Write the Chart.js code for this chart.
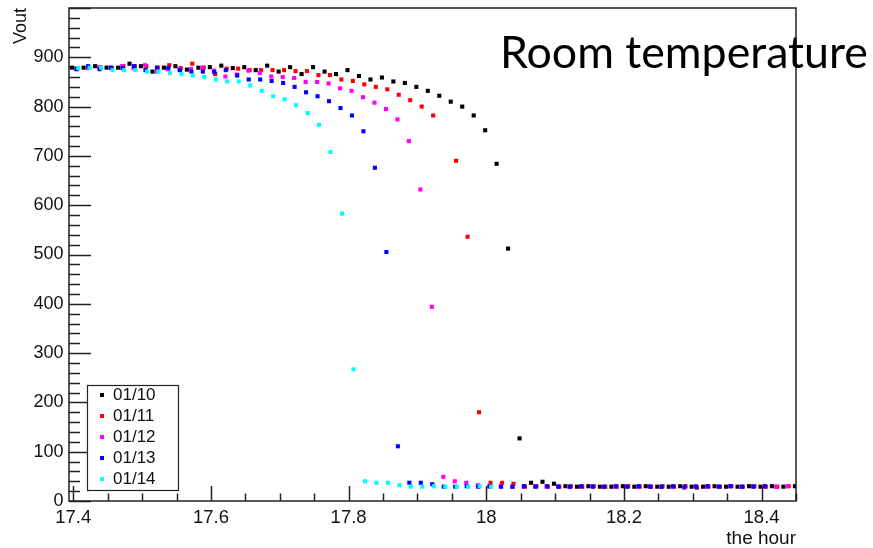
<!DOCTYPE html>
<html>
<head>
<meta charset="utf-8">
<script src="https://cdn.jsdelivr.net/npm/chart.js@4.4.0/dist/chart.umd.min.js"></script>
<style>
  html, body { margin: 0; padding: 0; background: #fff; }
  #wrap { position: relative; width: 873px; height: 548px; }
</style>
</head>
<body>
<div id="wrap"><canvas id="c" width="873" height="548"></canvas></div>
<script>
// Vout readings, one per minute, for each day's run
const dayLabels = ['01/10', '01/11', '01/12', '01/13', '01/14'];
const dayColors = ['#000000', '#ff0000', '#ff00ff', '#0000ff', '#00ffff'];

// start of each run (hour of day)
const start0110 = 17.3984;
const start0111 = 17.4062;
const start0112 = 17.4043;
const start0113 = 17.4049;
const start0114 = 17.4071;

const vout0110 = [879, 879, 882, 879, 879, 887, 882, 871, 879, 882, 875, 879, 880, 883, 878, 880,
  874, 883, 871, 880, 866, 880, 871, 866, 874, 862, 855, 859, 851, 848, 840, 832, 822, 810, 800,
  782, 752, 684, 512, 127, 37, 39, 35,
  30, 29, 30, 29, 29, 30, 29, 30, 29, 29, 30, 29, 29, 30, 29, 29, 30, 29, 30, 29, 30];

const vout0111 = [878, 879, 880, 878, 882, 882, 882, 879, 884, 878, 887, 879, 866, 877, 877, 874,
  874, 874, 874, 872, 872, 864, 864, 855, 852, 845, 840, 835, 824, 813, 800, 782, null, 690, 536,
  180, 37, 37, 35,
  29, 30, 29, 29, 30, 29, 30, 29, 29, 30, 29, 29, 30, 29, 30, 27, 29, 29, 30, 29, 30, 29, 29, 30];

const vout0112 = [876, 878, 880, 879, 882, 878, 884, 871, 876, 876, 876, 879, 873, 861, 865, 873,
  868, 861, 860, 858, 850, 850, 847, 837, 832, 819, 808, 795, 774, 730, 632, 394, 49, 40, 37, 32,
  29, 30, 29, 29, 30, 29, 30, 29, 29, 30, 29, 29, 30, 29, 30, 29, 29, 27, 30, 29, 29, 30, 29, 30,
  29, 29, 30];

const vout0113 = [876, 882, 876, 879, 878, 882, 874, 879, 879, 874, 871, 871, 870, 874, 863, 855,
  855, 852, 848, 840, 829, 821, 811, 797, 782, 750, 676, 505, 111, 37, 37, 34,
  29, 29, 30, 29, 30, 29, 29, 30, 29, 30, 29, 29, 30, 29, 29, 30, 29, 30, 29, 29, 30, 29, 29, 30,
  29, 30, 29, 29, 30];

const vout0114 = [878, 879, 879, 874, 874, 874, 871, 871, 868, 866, 863, 860, 855, 851, 851, 843,
  832, 821, 815, 803, 787, 763, 708, 583, 267, 40, 37, 37, 32, 29, 29, 30, 29, 29, 29, 30, 29];

const hourTicks = [17.4, 17.6, 17.8, 18.0, 18.2, 18.4];
const hourTickLabels = ['17.4', '17.6', '17.8', '18', '18.2', '18.4'];
const voutTicks = [0, 100, 200, 300, 400, 500, 600, 700, 800, 900];

const FONT = "'Liberation Sans', Arial, sans-serif";

function minuteSeries(start, values) {
  return values.map((v, i) => ({ x: start + i / 60, y: v }));
}

const runs = [
  minuteSeries(start0110, vout0110),
  minuteSeries(start0111, vout0111),
  minuteSeries(start0112, vout0112),
  minuteSeries(start0113, vout0113),
  minuteSeries(start0114, vout0114),
];

const datasets = runs.map((pts, i) => ({
  label: dayLabels[i],
  data: pts,
  showLine: false,
  pointStyle: 'rect',
  pointRadius: 2.9,
  pointHoverRadius: 2.9,
  pointBorderWidth: 0,
  backgroundColor: dayColors[i],
  borderColor: dayColors[i],
  order: dayLabels.length - i, // later days drawn on top
}));

// frame plus inward ticks, ROOT style
const framePlugin = {
  id: 'frameTicks',
  beforeDatasetsDraw(chart) {
    const { ctx, chartArea: a, scales: { x, y } } = chart;
    ctx.save();
    ctx.strokeStyle = '#222';
    ctx.lineWidth = 1.5;
    ctx.strokeRect(a.left, a.top, a.right - a.left, a.bottom - a.top);
    ctx.beginPath();
    for (let i = 0; i <= 21; i++) {
      const px = Math.round(x.getPixelForValue(17.4 + i * 0.05)) + 0.5;
      const len = i % 4 === 0 ? 15 : 7.5;
      ctx.moveTo(px, a.bottom);
      ctx.lineTo(px, a.bottom - len);
    }
    for (let i = 0; i <= 50; i++) {
      const py = Math.round(y.getPixelForValue(i * 20)) + 0.5;
      const len = i % 5 === 0 ? 22 : 11;
      ctx.moveTo(a.left, py);
      ctx.lineTo(a.left + len, py);
    }
    ctx.stroke();
    ctx.restore();
  },
  afterDraw(chart) {
    const { ctx } = chart;
    ctx.save();
    // legend box
    const bx = 87, by = 385, bw = 91, bh = 105;
    ctx.fillStyle = '#fff';
    ctx.fillRect(bx, by, bw, bh);
    ctx.strokeStyle = '#222';
    ctx.lineWidth = 1.2;
    ctx.strokeRect(bx + 0.5, by + 0.5, bw, bh);
    ctx.font = '17px ' + FONT;
    ctx.textBaseline = 'middle';
    chart.data.datasets.forEach((ds, i) => {
      const ry = by + 10 + i * 21;
      ctx.fillStyle = ds.backgroundColor;
      ctx.fillRect(bx + 13, ry - 2, 4, 4);
      ctx.fillStyle = '#111';
      ctx.fillText(ds.label, bx + 26, ry);
    });
    // slide heading
    const title = 'Room temperature';
    let size = 44;
    ctx.font = size + 'px Lato, sans-serif';
    size = size * 368 / ctx.measureText(title).width;
    ctx.font = size + 'px Lato, sans-serif';
    ctx.fillStyle = '#000';
    ctx.textBaseline = 'alphabetic';
    ctx.fillText(title, 500, 68);
    ctx.restore();
  }
};

new Chart(document.getElementById('c'), {
  type: 'scatter',
  data: { datasets },
  options: {
    responsive: false,
    animation: false,
    layout: { padding: { left: 0, right: 77, top: 8, bottom: 0 } },
    plugins: { legend: { display: false }, tooltip: { enabled: false } },
    scales: {
      x: {
        type: 'linear',
        position: 'bottom',
        min: 17.3938,
        max: 18.45,
        grid: { display: false, drawTicks: false },
        border: { display: false },
        afterBuildTicks: s => { s.ticks = hourTicks.map(v => ({ value: v })); },
        afterFit: s => { s.height = 47; s.paddingLeft = 0; s.paddingRight = 0; },
        ticks: {
          autoSkip: false,
          maxRotation: 0,
          padding: 6,
          color: '#111',
          font: { family: FONT, size: 18.5 },
          callback: (v, i) => hourTickLabels[i],
        },
        title: {
          display: true,
          text: 'the hour',
          align: 'end',
          color: '#111',
          font: { family: FONT, size: 19 },
          padding: { top: 0, bottom: -2 },
        },
      },
      y: {
        type: 'linear',
        min: 0,
        max: 1000,
        grid: { display: false, drawTicks: false },
        border: { display: false },
        afterBuildTicks: s => { s.ticks = voutTicks.map(v => ({ value: v })); },
        afterFit: s => { s.width = 69; s.paddingTop = 0; s.paddingBottom = 0; },
        ticks: {
          padding: 5.5,
          color: '#111',
          font: { family: FONT, size: 18 },
        },
        title: {
          display: true,
          text: 'Vout',
          align: 'end',
          color: '#111',
          font: { family: FONT, size: 18 },
          padding: { top: 10, bottom: 0 },
        },
      },
    },
  },
  plugins: [framePlugin],
});
</script>
</body>
</html>
